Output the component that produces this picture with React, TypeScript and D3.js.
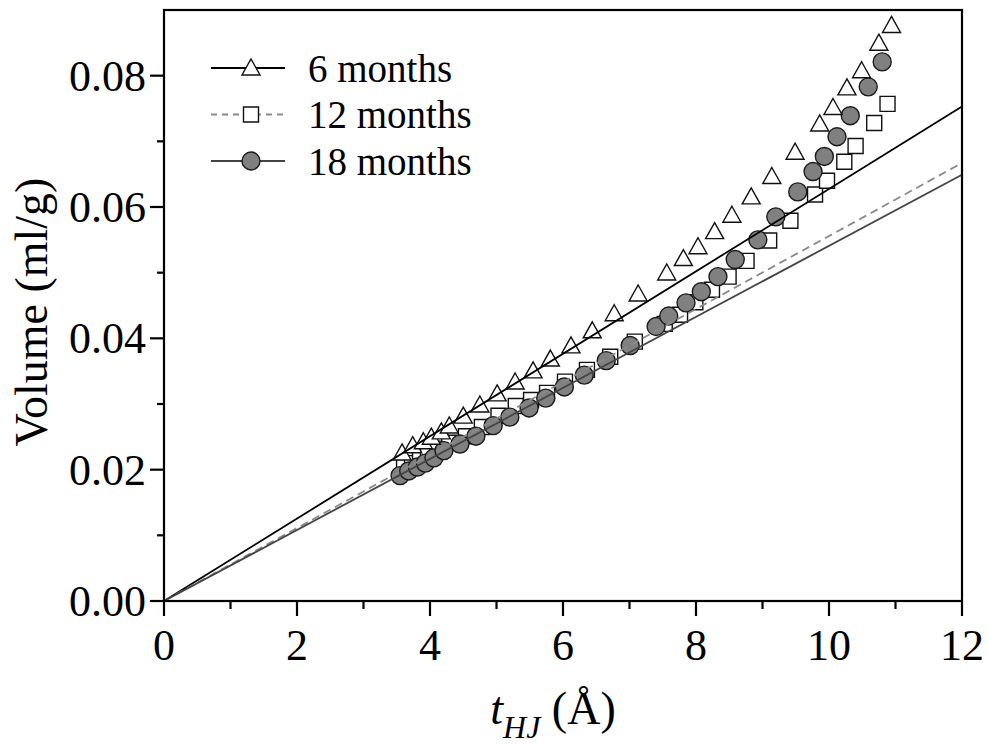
import * as d3 from 'd3'
import React from 'react'

// readings from the picture: t (Å) and volume (ml/g)
const t6 = [3.58, 3.74, 3.90, 4.02, 4.17, 4.29, 4.50, 4.75, 5.01, 5.28, 5.55, 5.81, 6.12, 6.44, 6.77, 7.13, 7.56, 7.81, 8.03, 8.28, 8.54, 8.83, 9.14, 9.49, 9.86, 10.06, 10.27, 10.49, 10.75, 10.94]
const v6 = [0.0227, 0.0238, 0.0244, 0.0251, 0.0259, 0.0268, 0.0283, 0.0300, 0.0317, 0.0335, 0.0352, 0.0370, 0.0390, 0.0413, 0.0439, 0.0469, 0.0501, 0.0523, 0.0541, 0.0564, 0.0589, 0.0617, 0.0648, 0.0685, 0.0728, 0.0753, 0.0783, 0.0809, 0.0851, 0.0878]

const t12 = [3.61, 3.73, 3.85, 3.97, 4.11, 4.29, 4.54, 4.78, 5.03, 5.29, 5.52, 5.76, 6.03, 6.36, 6.71, 7.08, 7.53, 7.76, 7.99, 8.24, 8.49, 8.76, 9.10, 9.42, 9.79, 9.97, 10.23, 10.40, 10.68, 10.88]
const v12 = [0.0204, 0.0210, 0.0216, 0.0222, 0.0232, 0.0241, 0.0251, 0.0265, 0.0282, 0.0297, 0.0306, 0.0317, 0.0334, 0.0352, 0.0372, 0.0395, 0.0422, 0.0436, 0.0455, 0.0474, 0.0494, 0.0518, 0.0549, 0.0579, 0.0619, 0.0640, 0.0669, 0.0693, 0.0728, 0.0757]

const t18 = [3.55, 3.68, 3.81, 3.93, 4.06, 4.21, 4.45, 4.69, 4.95, 5.20, 5.49, 5.74, 6.02, 6.32, 6.65, 7.01, 7.40, 7.59, 7.85, 8.08, 8.33, 8.59, 8.93, 9.20, 9.53, 9.76, 9.93, 10.12, 10.32, 10.59, 10.80]
const v18 = [0.0191, 0.0198, 0.0204, 0.0210, 0.0218, 0.0229, 0.0239, 0.0251, 0.0267, 0.0280, 0.0294, 0.0309, 0.0326, 0.0344, 0.0366, 0.0389, 0.0418, 0.0434, 0.0454, 0.0471, 0.0494, 0.0520, 0.0550, 0.0585, 0.0623, 0.0654, 0.0677, 0.0707, 0.0739, 0.0783, 0.0821]

// linear fits through the origin: volume at t = 12
const fitEnd = [0.0753, 0.0667, 0.0649]

const seriesNames = ['6 months', '12 months', '18 months']
const xTicks = [0, 2, 4, 6, 8, 10, 12]
const yTicks = [0, 0.02, 0.04, 0.06, 0.08]

const W = 988
const H = 747
const margin = { top: 10, right: 26, bottom: 146, left: 164 }
const font = "'Liberation Serif', 'Times New Roman', Times, serif"

const App = () => {
  const x = d3.scaleLinear().domain([0, 12]).range([margin.left, W - margin.right])
  const y = d3.scaleLinear().domain([0, 0.09]).range([H - margin.bottom, margin.top])

  const x0 = x(0), x1 = x(12), yb = y(0), yt = y(0.09)

  const tri = 'M0,-8L9,8L-9,8Z'
  const sq = d3.symbol(d3.symbolSquare, 225)()
  const circ = d3.symbol(d3.symbolCircle, Math.PI * 81)()

  const fitPath = (end: number) =>
    d3.line<[number, number]>().x(d => x(d[0])).y(d => y(d[1]))([[0, 0], [12, end]])

  const fitStyles = [
    { stroke: '#000', dash: undefined as string | undefined, width: 1.8 },
    { stroke: '#8a8a8a', dash: '8,5', width: 1.8 },
    { stroke: '#444', dash: undefined as string | undefined, width: 1.8 },
  ]

  const minorX = d3.range(1, 12, 2)
  const minorY = [0.01, 0.03, 0.05, 0.07]

  return (
    <svg width={W} height={H} style={{ position: 'absolute', left: 0, top: 0, background: '#fff' }}>
      <rect width={W} height={H} fill="#fff" />

      {/* markers */}
      <g fill="#fff" stroke="#111" strokeWidth={1.4}>
        {t12.map((t, i) => (
          <path key={'s' + i} d={sq!} transform={`translate(${x(t)},${y(v12[i])})`} />
        ))}
      </g>
      <g fill="#808080" stroke="#1a1a1a" strokeWidth={1.4}>
        {t18.map((t, i) => (
          <path key={'c' + i} d={circ!} transform={`translate(${x(t)},${y(v18[i])})`} />
        ))}
      </g>
      <g fill="#fff" stroke="#111" strokeWidth={1.4}>
        {t6.map((t, i) => (
          <path key={'t' + i} d={tri} transform={`translate(${x(t)},${y(v6[i])})`} />
        ))}
      </g>

      {/* fit lines */}
      {fitEnd.map((e, i) => (
        <path key={'f' + i} d={fitPath(e)!} fill="none" stroke={fitStyles[i].stroke}
          strokeWidth={fitStyles[i].width} strokeDasharray={fitStyles[i].dash} />
      ))}

      {/* frame */}
      <rect x={x0} y={yt} width={x1 - x0} height={yb - yt} fill="none" stroke="#000" strokeWidth={2.2} />

      {/* ticks */}
      <g stroke="#000" strokeWidth={2.2}>
        {xTicks.map(t => <line key={'xt' + t} x1={x(t)} x2={x(t)} y1={yb} y2={yb + 15} />)}
        {minorX.map(t => <line key={'xm' + t} x1={x(t)} x2={x(t)} y1={yb} y2={yb + 8} />)}
        {yTicks.map(t => <line key={'yt' + t} x1={x0} x2={x0 - 14} y1={y(t)} y2={y(t)} />)}
        {minorY.map(t => <line key={'ym' + t} x1={x0} x2={x0 - 7} y1={y(t)} y2={y(t)} />)}
      </g>

      <g fontFamily={font} fill="#000">
        {xTicks.map(t => (
          <text key={'xl' + t} x={x(t)} y={yb + 59} fontSize={44} textAnchor="middle">{t}</text>
        ))}
        {yTicks.map(t => (
          <text key={'yl' + t} x={x0 - 18} y={y(t)} dy="0.34em" fontSize={44} textAnchor="end">{d3.format('.2f')(t)}</text>
        ))}
        <text transform={`translate(47,312) rotate(-90)`} fontSize={46} textAnchor="middle">Volume (ml/g)</text>
        <text x={553} y={724} fontSize={46} textAnchor="middle">
          <tspan fontStyle="italic">t</tspan>
          <tspan fontStyle="italic" fontSize={32} dy={14}>HJ</tspan>
          <tspan dy={-14}> (Å)</tspan>
        </text>
      </g>

      {/* legend */}
      <g fontFamily={font} fontSize={39} fill="#000">
        {seriesNames.map((name, i) => {
          const ly = 68 + i * 46.5
          return (
            <g key={name}>
              <line x1={211} x2={285} y1={ly} y2={ly} stroke={fitStyles[i].stroke}
                strokeWidth={fitStyles[i].width} strokeDasharray={i === 1 ? '6,5' : undefined} />
              {i === 0 && <path d={tri} transform={`translate(251,${ly - 1})`} fill="#fff" stroke="#111" strokeWidth={1.4} />}
              {i === 1 && <path d={sq!} transform={`translate(251,${ly})`} fill="#fff" stroke="#111" strokeWidth={1.4} />}
              {i === 2 && <path d={circ!} transform={`translate(251,${ly})`} fill="#808080" stroke="#1a1a1a" strokeWidth={1.4} />}
              <text x={308} y={ly} dy="0.35em">{name}</text>
            </g>
          )
        })}
      </g>
    </svg>
  )
}

export default App
